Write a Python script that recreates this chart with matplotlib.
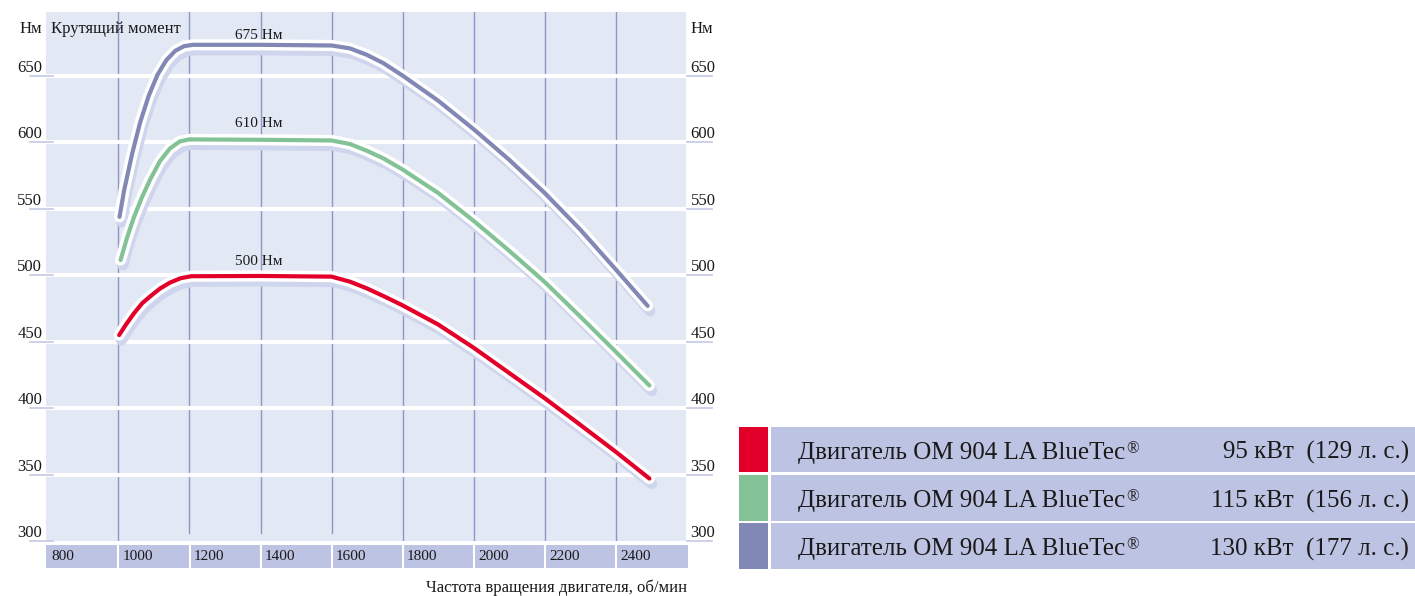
import matplotlib
matplotlib.use('Agg')
import matplotlib.pyplot as plt
import matplotlib.patheffects as pe
from matplotlib.patches import Rectangle
from matplotlib.lines import Line2D

rpm_95 = [1002, 1020, 1044, 1067, 1091, 1117, 1145, 1175, 1205, 1400, 1600, 1652, 1699, 1746, 1799,
          1900, 2000, 2100, 2200, 2300, 2400, 2495]
torque_95 = [455, 462.5, 471.5, 479, 484.5, 490, 494.5, 497.8, 499.3, 499.5, 499, 495.2, 490.2, 484.4, 477.5,
             463, 445.5, 426.5, 407.5, 387.5, 367.2, 347]

rpm_115 = [1006, 1025, 1044, 1065, 1089, 1117, 1145, 1173, 1199, 1400, 1600, 1652, 1699, 1746, 1799,
           1900, 2000, 2100, 2200, 2300, 2400, 2495]
torque_115 = [511.5, 529, 544, 558, 572, 586, 595.5, 600.8, 602.3, 602, 601.5, 598.8, 593.8, 588, 579.8,
              562, 541, 518.5, 495, 469, 442.5, 417]

rpm_130 = [1003, 1016, 1039, 1061, 1085, 1110, 1135, 1160, 1185, 1210, 1400, 1600, 1652, 1699, 1746,
           1799, 1900, 2000, 2100, 2200, 2300, 2400, 2490]
torque_130 = [544, 564, 592, 615, 635, 651, 662, 669, 672.5, 673.5, 673.5, 673, 670.8, 666, 659.7,
              650.5, 631.5, 610, 587, 562, 534.5, 504.5, 477]

peak_labels = ['500 Нм', '610 Нм', '675 Нм']
peak_values = [508, 612, 678]

y_ticks = [300, 350, 400, 450, 500, 550, 600, 650]
x_ticks = [800, 1000, 1200, 1400, 1600, 1800, 2000, 2200, 2400]

engine_names = ['Двигатель OM 904 LA BlueTec', 'Двигатель OM 904 LA BlueTec', 'Двигатель OM 904 LA BlueTec']
engine_power = ['95 кВт  (129 л. с.)', '115 кВт  (156 л. с.)', '130 кВт  (177 л. с.)']
colors = ['#e2002a', '#82c296', '#8188b5']

plt.rcParams['font.family'] = ['Liberation Serif', 'DejaVu Serif']
W, H = 1415, 596
fig = plt.figure(figsize=(W / 100, H / 100), dpi=100)


def box(x0, y0, x1, y1):
    return [x0 / W, 1 - y1 / H, (x1 - x0) / W, (y1 - y0) / H]


panel = '#e3e8f5'
vline = '#8f96c4'
band = '#bdc3e2'
txt = '#1a1a1a'

ax = fig.add_axes(box(46, 12, 686, 541))
ax.set_facecolor(panel)
ax.set_xlim(796, 2598)
ax.set_ylim(300, 698.2)
for s in ax.spines.values():
    s.set_visible(False)
ax.set_xticks([])
ax.set_yticks([])

for xv in x_ticks[1:]:
    ymin = 0.015 if xv in (1200, 1400, 1600) else 0
    ax.axvline(xv, ymin=ymin, color=vline, lw=1.0, zorder=1)
for yv in y_ticks[1:]:
    ax.axhline(yv, color='white', lw=3, zorder=2)

ytr = ax.get_yaxis_transform()
for yv in y_ticks:
    ax.text(-0.006, yv + 3, str(yv), transform=ytr, ha='right', va='baseline',
            fontsize=12, color=txt)
    ax.text(1.007, yv + 3, str(yv), transform=ytr, ha='left', va='baseline',
            fontsize=12, color=txt)
    ax.add_line(Line2D([-0.025, 0.011], [yv, yv], transform=ytr, color='#c3c9e6',
                       lw=1.2, clip_on=False))
    ax.add_line(Line2D([1.002, 1.04], [yv, yv], transform=ytr, color='#c3c9e6',
                       lw=1.2, clip_on=False))

effects = [pe.SimpleLineShadow(offset=(1.6, -3.6), shadow_color='#cfd5ec', alpha=1, rho=1, linewidth=8),
           pe.Stroke(linewidth=8, foreground='white'),
           pe.Normal()]
for xs, ys, c in [(rpm_130, torque_130, colors[2]), (rpm_115, torque_115, colors[1]),
                  (rpm_95, torque_95, colors[0])]:
    ax.plot(xs, ys, color=c, lw=3, solid_capstyle='round', solid_joinstyle='round',
            path_effects=effects, zorder=5, clip_on=False)

for lab, v in zip(peak_labels, peak_values):
    ax.text(1395, v, lab, ha='center', va='baseline', fontsize=11, color=txt, zorder=6)

fig.text(20 / W, 1 - 33 / H, 'Нм', fontsize=12, color=txt, va='baseline')
fig.text(51 / W, 1 - 33 / H, 'Крутящий момент', fontsize=12, color=txt, va='baseline')
fig.text(691 / W, 1 - 33 / H, 'Нм', fontsize=12, color=txt, va='baseline')

# rpm band under the plot
bx = fig.add_axes(box(46, 545, 688, 568))
bx.set_facecolor(band)
bx.set_xlim(796, 2603)
bx.set_ylim(0, 1)
for s in bx.spines.values():
    s.set_visible(False)
bx.set_xticks([])
bx.set_yticks([])
for xv in x_ticks:
    if xv > 800:
        bx.axvline(xv, color='white', lw=1.5)
    bx.text(xv + 12, 0.48, str(xv), ha='left', va='center', fontsize=11, color=txt)

fig.text(687 / W, 1 - 592 / H, 'Частота вращения двигателя, об/мин', ha='right',
         va='baseline', fontsize=12, color=txt)

# legend rows
lx = fig.add_axes([0, 0, 1, 1], facecolor='none')
lx.set_xlim(0, W)
lx.set_ylim(H, 0)
lx.axis('off')
rows = [(426.7, 472.3), (475, 520.7), (523.3, 568.7)]
renderer = fig.canvas.get_renderer()
for (y0, y1), c, name, pw in zip(rows, colors, engine_names, engine_power):
    lx.add_patch(Rectangle((738.7, y0), 29.7, y1 - y0, color=c, lw=0))
    lx.add_patch(Rectangle((770.6, y0), W - 770.6, y1 - y0, color=band, lw=0))
    yc = (y0 + y1) / 2 + 9.5
    t = lx.text(797.7, yc, name, ha='left', va='baseline', fontsize=18, color=txt)
    bb = t.get_window_extent(renderer)
    lx.text(bb.x1 + 1.5, yc - 6, '®', ha='left', va='baseline', fontsize=12, color=txt)
    lx.text(1409, yc, pw, ha='right', va='baseline', fontsize=18, color=txt)

fig.savefig('out.png', dpi=100)
